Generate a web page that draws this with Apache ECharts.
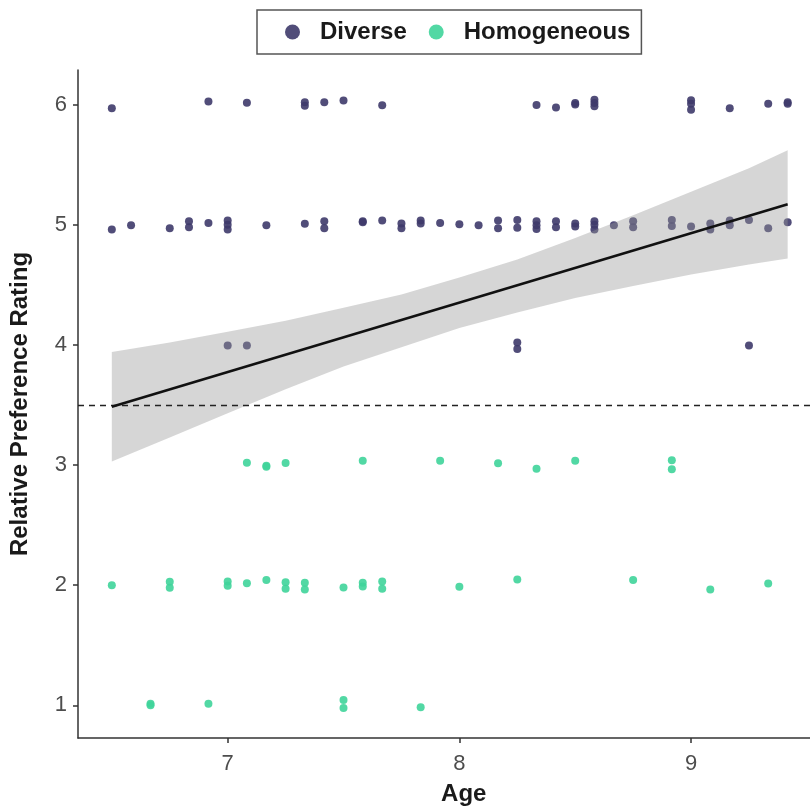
<!DOCTYPE html>
<html><head><meta charset="utf-8">
<script src="https://cdn.jsdelivr.net/npm/echarts@6/dist/echarts.min.js"></script>
<style>html,body{margin:0;padding:0;background:#fff}#c{width:810px;height:807px}</style>
</head><body><div id="c"></div>
<script>
const xTicks = [7, 8, 9];
const yTicks = [1, 2, 3, 4, 5, 6];
const seriesNames = ['Diverse', 'Homogeneous'];

const diverseAge = [
  6.5, 6.5, 6.583, 6.75, 6.833, 6.833, 6.917, 6.917,
  7.0, 7.0, 7.0, 7.0, 7.083, 7.083, 7.167, 7.333, 7.333, 7.333,
  7.417, 7.417, 7.417, 7.5, 7.583, 7.583, 7.667, 7.667, 7.75, 7.75,
  7.833, 7.833, 7.917, 8.0, 8.083, 8.167, 8.167, 8.25, 8.25, 8.25, 8.25,
  8.333, 8.333, 8.333, 8.333, 8.417, 8.417, 8.417, 8.5, 8.5, 8.5, 8.5,
  8.583, 8.583, 8.583, 8.583, 8.583, 8.583, 8.667, 8.75, 8.75, 8.917, 8.917,
  9.0, 9.0, 9.0, 9.0, 9.083, 9.083, 9.167, 9.167, 9.167, 9.25, 9.25,
  9.333, 9.333, 9.417, 9.417, 9.417
];
const diverseRating = [
  5.97, 4.96, 4.995, 4.97, 5.03, 4.98, 6.025, 5.015,
  5.035, 5.0, 4.96, 3.995, 6.015, 3.995, 4.995, 6.02, 5.99, 5.008,
  6.02, 5.03, 4.97, 6.035, 5.03, 5.02, 5.995, 5.035, 5.01, 4.97,
  5.035, 5.01, 5.015, 5.005, 4.995, 5.035, 4.97, 5.04, 4.975, 4.02, 3.965,
  5.997, 5.03, 4.995, 4.965, 5.975, 5.03, 4.98, 6.014, 6.0, 5.01, 4.985,
  6.04, 6.014, 5.986, 5.03, 5.0, 4.96, 4.995, 5.03, 4.98, 5.04, 4.99,
  6.036, 6.008, 5.958, 4.985, 5.01, 4.96, 5.97, 5.035, 4.995, 5.04, 3.995,
  6.008, 4.97, 6.008, 6.02, 5.02
];

const homoAge = [
  6.5, 6.667, 6.667, 6.75, 6.75, 6.917, 7.0, 7.0, 7.083, 7.083,
  7.167, 7.167, 7.167, 7.25, 7.25, 7.25, 7.333, 7.333,
  7.5, 7.5, 7.5, 7.583, 7.583, 7.583, 7.667, 7.667, 7.833, 7.917,
  8.0, 8.167, 8.25, 8.333, 8.5, 8.75, 8.917, 8.917, 9.083, 9.333
];
const homoRating = [
  2.0, 1.014, 1.0, 2.028, 1.978, 1.014, 2.03, 1.995, 3.02, 2.017,
  2.995, 2.985, 2.044, 3.017, 2.025, 1.97, 2.02, 1.965,
  1.98, 1.044, 0.978, 3.035, 2.02, 1.99, 2.03, 1.97, 0.983, 3.035,
  1.986, 3.014, 2.047, 2.97, 3.035, 2.044, 3.04, 2.964, 1.965, 2.014
];

const fitAge = [6.5, 9.417];
const fitRating = [3.486, 5.17];

const bandAge   = [6.5, 6.75, 7.0, 7.25, 7.5, 7.75, 8.0, 8.25, 8.5, 8.75, 9.0, 9.25, 9.417];
const bandLower = [3.03, 3.23, 3.43, 3.63, 3.82, 3.98, 4.14, 4.27, 4.39, 4.49, 4.585, 4.67, 4.72];
const bandUpper = [3.94, 4.02, 4.11, 4.20, 4.31, 4.42, 4.56, 4.71, 4.89, 5.08, 5.275, 5.47, 5.62];

const refLine = 3.5;

const COL_D = '#3E3A6A';
const COL_H = '#3FD49A';
const FONT = 'Liberation Sans, Arial, sans-serif';

const chart = echarts.init(document.getElementById('c'), null, {renderer: 'canvas'});

const zip = (a, b) => a.map((v, i) => [v, b[i]]);

chart.setOption({
  animation: false,
  backgroundColor: '#fff',
  textStyle: {fontFamily: FONT},
  legend: {
    data: seriesNames.map(n => ({name: n, icon: 'circle'})),
    left: 257, top: 10,
    orient: 'horizontal',
    padding: [10, 11, 10, 28],
    itemWidth: 15, itemHeight: 15, itemGap: 22,
    borderColor: '#555', borderWidth: 1.5, borderRadius: 0,
    textStyle: {fontFamily: FONT, fontSize: 24, fontWeight: 'bold', color: '#1a1a1a', padding: [0, 0, 0, 15]}
  },
  grid: {left: 78, top: 70, width: 743.5, height: 668, containLabel: false, outerBoundsMode: 'none'},
  xAxis: {
    type: 'value', min: 6.354, max: 9.563,
    name: 'Age', nameLocation: 'middle', nameGap: 44,
    nameTextStyle: {fontFamily: FONT, fontSize: 24, fontWeight: 'bold', color: '#1a1a1a', padding: [0, 0, 0, 28]},
    axisLine: {show: true, onZero: false, lineStyle: {color: '#333', width: 1.5}},
    axisTick: {show: true, length: 5, customValues: xTicks, lineStyle: {color: '#333', width: 1.5}},
    axisLabel: {customValues: xTicks, margin: 15, fontSize: 22, color: '#4d4d4d', fontFamily: FONT},
    splitLine: {show: false}
  },
  yAxis: {
    type: 'value', min: 0.728, max: 6.288,
    name: 'Relative Preference Rating', nameLocation: 'middle', nameGap: 46, nameRotate: 90,
    nameTextStyle: {fontFamily: FONT, fontSize: 24, fontWeight: 'bold', color: '#1a1a1a', padding: [0, 0, 0, 0]},
    axisLine: {show: true, onZero: false, lineStyle: {color: '#333', width: 1.5}},
    axisTick: {show: true, length: 5, customValues: yTicks, lineStyle: {color: '#333', width: 1.5}},
    axisLabel: {customValues: yTicks, margin: 11, fontSize: 22, color: '#4d4d4d', fontFamily: FONT},
    splitLine: {show: false}
  },
  series: [
    {
      name: 'Diverse', type: 'scatter', symbolSize: 8, z: 2,
      itemStyle: {color: COL_D, opacity: 0.9},
      data: zip(diverseAge, diverseRating)
    },
    {
      name: 'Homogeneous', type: 'scatter', symbolSize: 8, z: 2,
      itemStyle: {color: COL_H, opacity: 0.9},
      data: zip(homoAge, homoRating)
    },
    {
      name: 'band', type: 'custom', z: 3, silent: true,
      encode: {x: 0, y: [1, 2]},
      data: bandAge.map((a, i) => [a, bandLower[i], bandUpper[i]]),
      renderItem: function (params, api) {
        if (params.dataIndex !== 0) return null;
        const pts = [];
        for (let i = 0; i < bandAge.length; i++) pts.push(api.coord([bandAge[i], bandUpper[i]]));
        for (let i = bandAge.length - 1; i >= 0; i--) pts.push(api.coord([bandAge[i], bandLower[i]]));
        return {type: 'polygon', shape: {points: pts}, style: {fill: 'rgba(153,153,153,0.4)'}};
      }
    },
    {
      name: 'fit', type: 'line', z: 5, silent: true, symbol: 'none',
      lineStyle: {color: '#111', width: 2.6},
      data: zip(fitAge, fitRating),
      markLine: {
        silent: true, symbol: 'none', label: {show: false},
        lineStyle: {color: '#222', width: 1.4, type: [6, 5]},
        data: [{yAxis: refLine}]
      }
    }
  ]
});
</script>
</body></html>
